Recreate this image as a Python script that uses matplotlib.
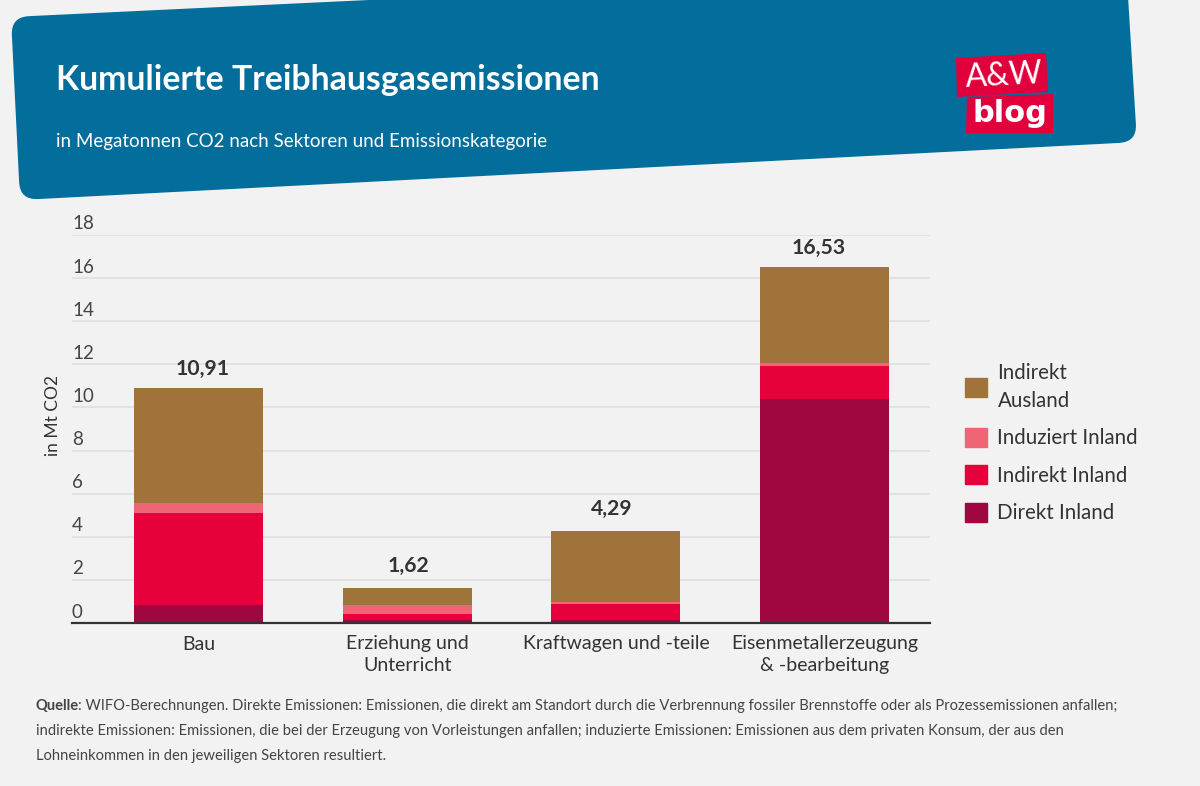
import numpy as np
import matplotlib
matplotlib.use("Agg")
import matplotlib.pyplot as plt
from matplotlib.patches import PathPatch, Polygon, Patch
from matplotlib.path import Path
from matplotlib.transforms import ScaledTranslation

# Chart data
SECTORS = ["Bau", "Erziehung und\nUnterricht", "Kraftwagen und -teile", "Eisenmetallerzeugung\n& -bearbeitung"]
DIREKT_INLAND = [0.85, 0.13, 0.13, 10.39]
INDIREKT_INLAND = [4.23, 0.29, 0.75, 1.53]
INDUZIERT_INLAND = [0.50, 0.41, 0.09, 0.15]
INDIREKT_AUSLAND = [5.33, 0.79, 3.32, 4.46]
TOTALS = ["10,91", "1,62", "4,29", "16,53"]
YTICKS = [0, 2, 4, 6, 8, 10, 12, 14, 16, 18]

# The total labels are not quite centred on their bars in the original (pixels)
LABEL_DX = [4, 1.5, -4.5, -5.5]
LABEL_DY = [0, 3, 3, 0]

# Colours
BG = "#F2F2F2"
BLUE = "#036D9B"
LOGO_RED = "#E2003C"
BROWN = "#A0733A"
PINK = "#F06575"
RED = "#E6003C"
DARK = "#A00640"
TEXT = "#333333"

W, H = 1200, 786
BODY = "Lato"

plt.rcParams["font.family"] = BODY
fig = plt.figure(figsize=(W / 100, H / 100), dpi=100, facecolor=BG)


def px_box(left, top, right, bottom):
    return [left / W, 1 - bottom / H, (right - left) / W, (bottom - top) / H]


def rounded_poly(points, radius):
    # closed polygon with quadratic corners
    pts = np.array(points, dtype=float)
    n = len(pts)
    verts, codes = [], []
    for i in range(n):
        p, prev, nxt = pts[i], pts[i - 1], pts[(i + 1) % n]
        a = p + (prev - p) / np.linalg.norm(prev - p) * radius[i]
        b = p + (nxt - p) / np.linalg.norm(nxt - p) * radius[i]
        verts += [a, p, b]
        codes += [Path.MOVETO if i == 0 else Path.LINETO, Path.CURVE3, Path.CURVE3]
    verts.append(verts[0])
    codes.append(Path.CLOSEPOLY)
    return Path(verts, codes)


# Main chart, placed so that 0 sits at y=623 and 18 at y=235
ax = fig.add_axes(px_box(72, 235, 930, 623))
ax.set_facecolor("none")
ax.set_xlim(-0.606, 3.505)
ax.set_ylim(0, 18)

x = np.arange(len(SECTORS))
series = [
    ("Direkt Inland", DIREKT_INLAND, DARK),
    ("Indirekt Inland", INDIREKT_INLAND, RED),
    ("Induziert Inland", INDUZIERT_INLAND, PINK),
    ("Indirekt\nAusland", INDIREKT_AUSLAND, BROWN),
]
bottom = np.zeros(len(SECTORS))
for name, vals, col in series:
    ax.bar(x, vals, width=0.618, bottom=bottom, color=col, label=name, zorder=3)
    bottom += np.array(vals)

for xi, top, label, dx, dy in zip(x, bottom, TOTALS, LABEL_DX, LABEL_DY):
    ax.annotate(label, (xi, top), xytext=(dx * 0.72, 6.5 + dy * 0.72), textcoords="offset points",
                ha="center", va="bottom", fontsize=15.2, fontweight="bold", color=TEXT)

ax.set_yticks(YTICKS)
ax.set_xticks(x, SECTORS)
ax.tick_params(axis="y", length=0, pad=0, labelsize=13.5, labelcolor="#444444")
ax.tick_params(axis="x", length=0, pad=9, labelsize=14, labelcolor=TEXT)
lift = ScaledTranslation(0, 2.5 / 100, fig.dpi_scale_trans)
for lab in ax.get_yticklabels():
    lab.set_horizontalalignment("left")
    lab.set_verticalalignment("bottom")
    lab.set_transform(lab.get_transform() + lift)
for lab in ax.get_xticklabels():
    lab.set_linespacing(1.33)
ax.yaxis.grid(True, color="#DFDFDF", linewidth=1.2, zorder=0)
ax.set_axisbelow(True)
for side in ["top", "right", "left"]:
    ax.spines[side].set_visible(False)
ax.spines["bottom"].set_color("#333333")
ax.spines["bottom"].set_linewidth(1.6)
ax.spines["bottom"].set_zorder(5)

fig.text(53 / W, 1 - 415 / H, "in Mt CO2", rotation=90, ha="center", va="center",
         fontsize=12.5, color=TEXT)

# Legend
handles = [Patch(color=col) for _, _, col in reversed(series)]
labels = [name for name, _, _ in reversed(series)]
leg = fig.legend(handles, labels, loc="upper left", bbox_to_anchor=(957 / W, 1 - 354.5 / H),
                 frameon=False, fontsize=14.8, labelcolor=TEXT, handlelength=1.07, handleheight=1.07,
                 handletextpad=0.5, labelspacing=0.82, borderaxespad=0, borderpad=0.4)
for t in leg.get_texts():
    t.set_linespacing(1.5)

# Overlay in pixel coordinates for the header and the footer
ov = fig.add_axes([0, 0, 1, 1], zorder=10)
ov.set_xlim(0, W)
ov.set_ylim(H, 0)
ov.axis("off")

banner = rounded_poly([(11, 17), (1126, -36), (1137, 142), (20, 200)], [18, 1, 18, 18])
ov.add_patch(PathPatch(banner, facecolor=BLUE, edgecolor="none"))

ov.text(56, 80, "Kumulierte Treibhausgasemissionen", color="white", fontsize=24.3, fontweight="bold",
        ha="left", va="center")
ov.text(56, 141, "in Megatonnen CO2 nach Sektoren und Emissionskategorie", color="white", fontsize=13.5,
        ha="left", va="center")

# Logo
ov.add_patch(Polygon([(956, 58), (1046, 53), (1048, 92), (957, 97)], closed=True, facecolor=LOGO_RED, edgecolor="none"))
ov.add_patch(Polygon([(967, 97), (1053, 94), (1053, 133), (966, 133)], closed=True, facecolor=LOGO_RED, edgecolor="none"))
ov.text(1004, 76, "A&W", color="white", fontsize=23, rotation=3, ha="center", va="center")
ov.text(1010, 113, "blog", color="white", fontsize=22, family="DejaVu Sans", fontweight="bold", ha="center", va="center")

# Footer
FOOT_SIZE = 10.65
FOOT_COL = "#444444"
foot_lines = [
    "WIFO-Berechnungen. Direkte Emissionen: Emissionen, die direkt am Standort durch die Verbrennung fossiler Brennstoffe oder als Prozessemissionen anfallen;",
    "indirekte Emissionen: Emissionen, die bei der Erzeugung von Vorleistungen anfallen; induzierte Emissionen: Emissionen aus dem privaten Konsum, der aus den",
    "Lohneinkommen in den jeweiligen Sektoren resultiert.",
]
head = ov.text(35, 706, "Quelle", fontsize=FOOT_SIZE, fontweight="bold", color=FOOT_COL, va="center")
fig.canvas.draw()
head_w = head.get_window_extent().width
ov.text(35 + head_w, 706, ": " + foot_lines[0], fontsize=FOOT_SIZE, color=FOOT_COL, va="center")
ov.text(36, 731, foot_lines[1], fontsize=FOOT_SIZE, color=FOOT_COL, va="center")
ov.text(36, 756, foot_lines[2], fontsize=FOOT_SIZE, color=FOOT_COL, va="center")

fig.savefig("out.png", dpi=100, facecolor=BG)
